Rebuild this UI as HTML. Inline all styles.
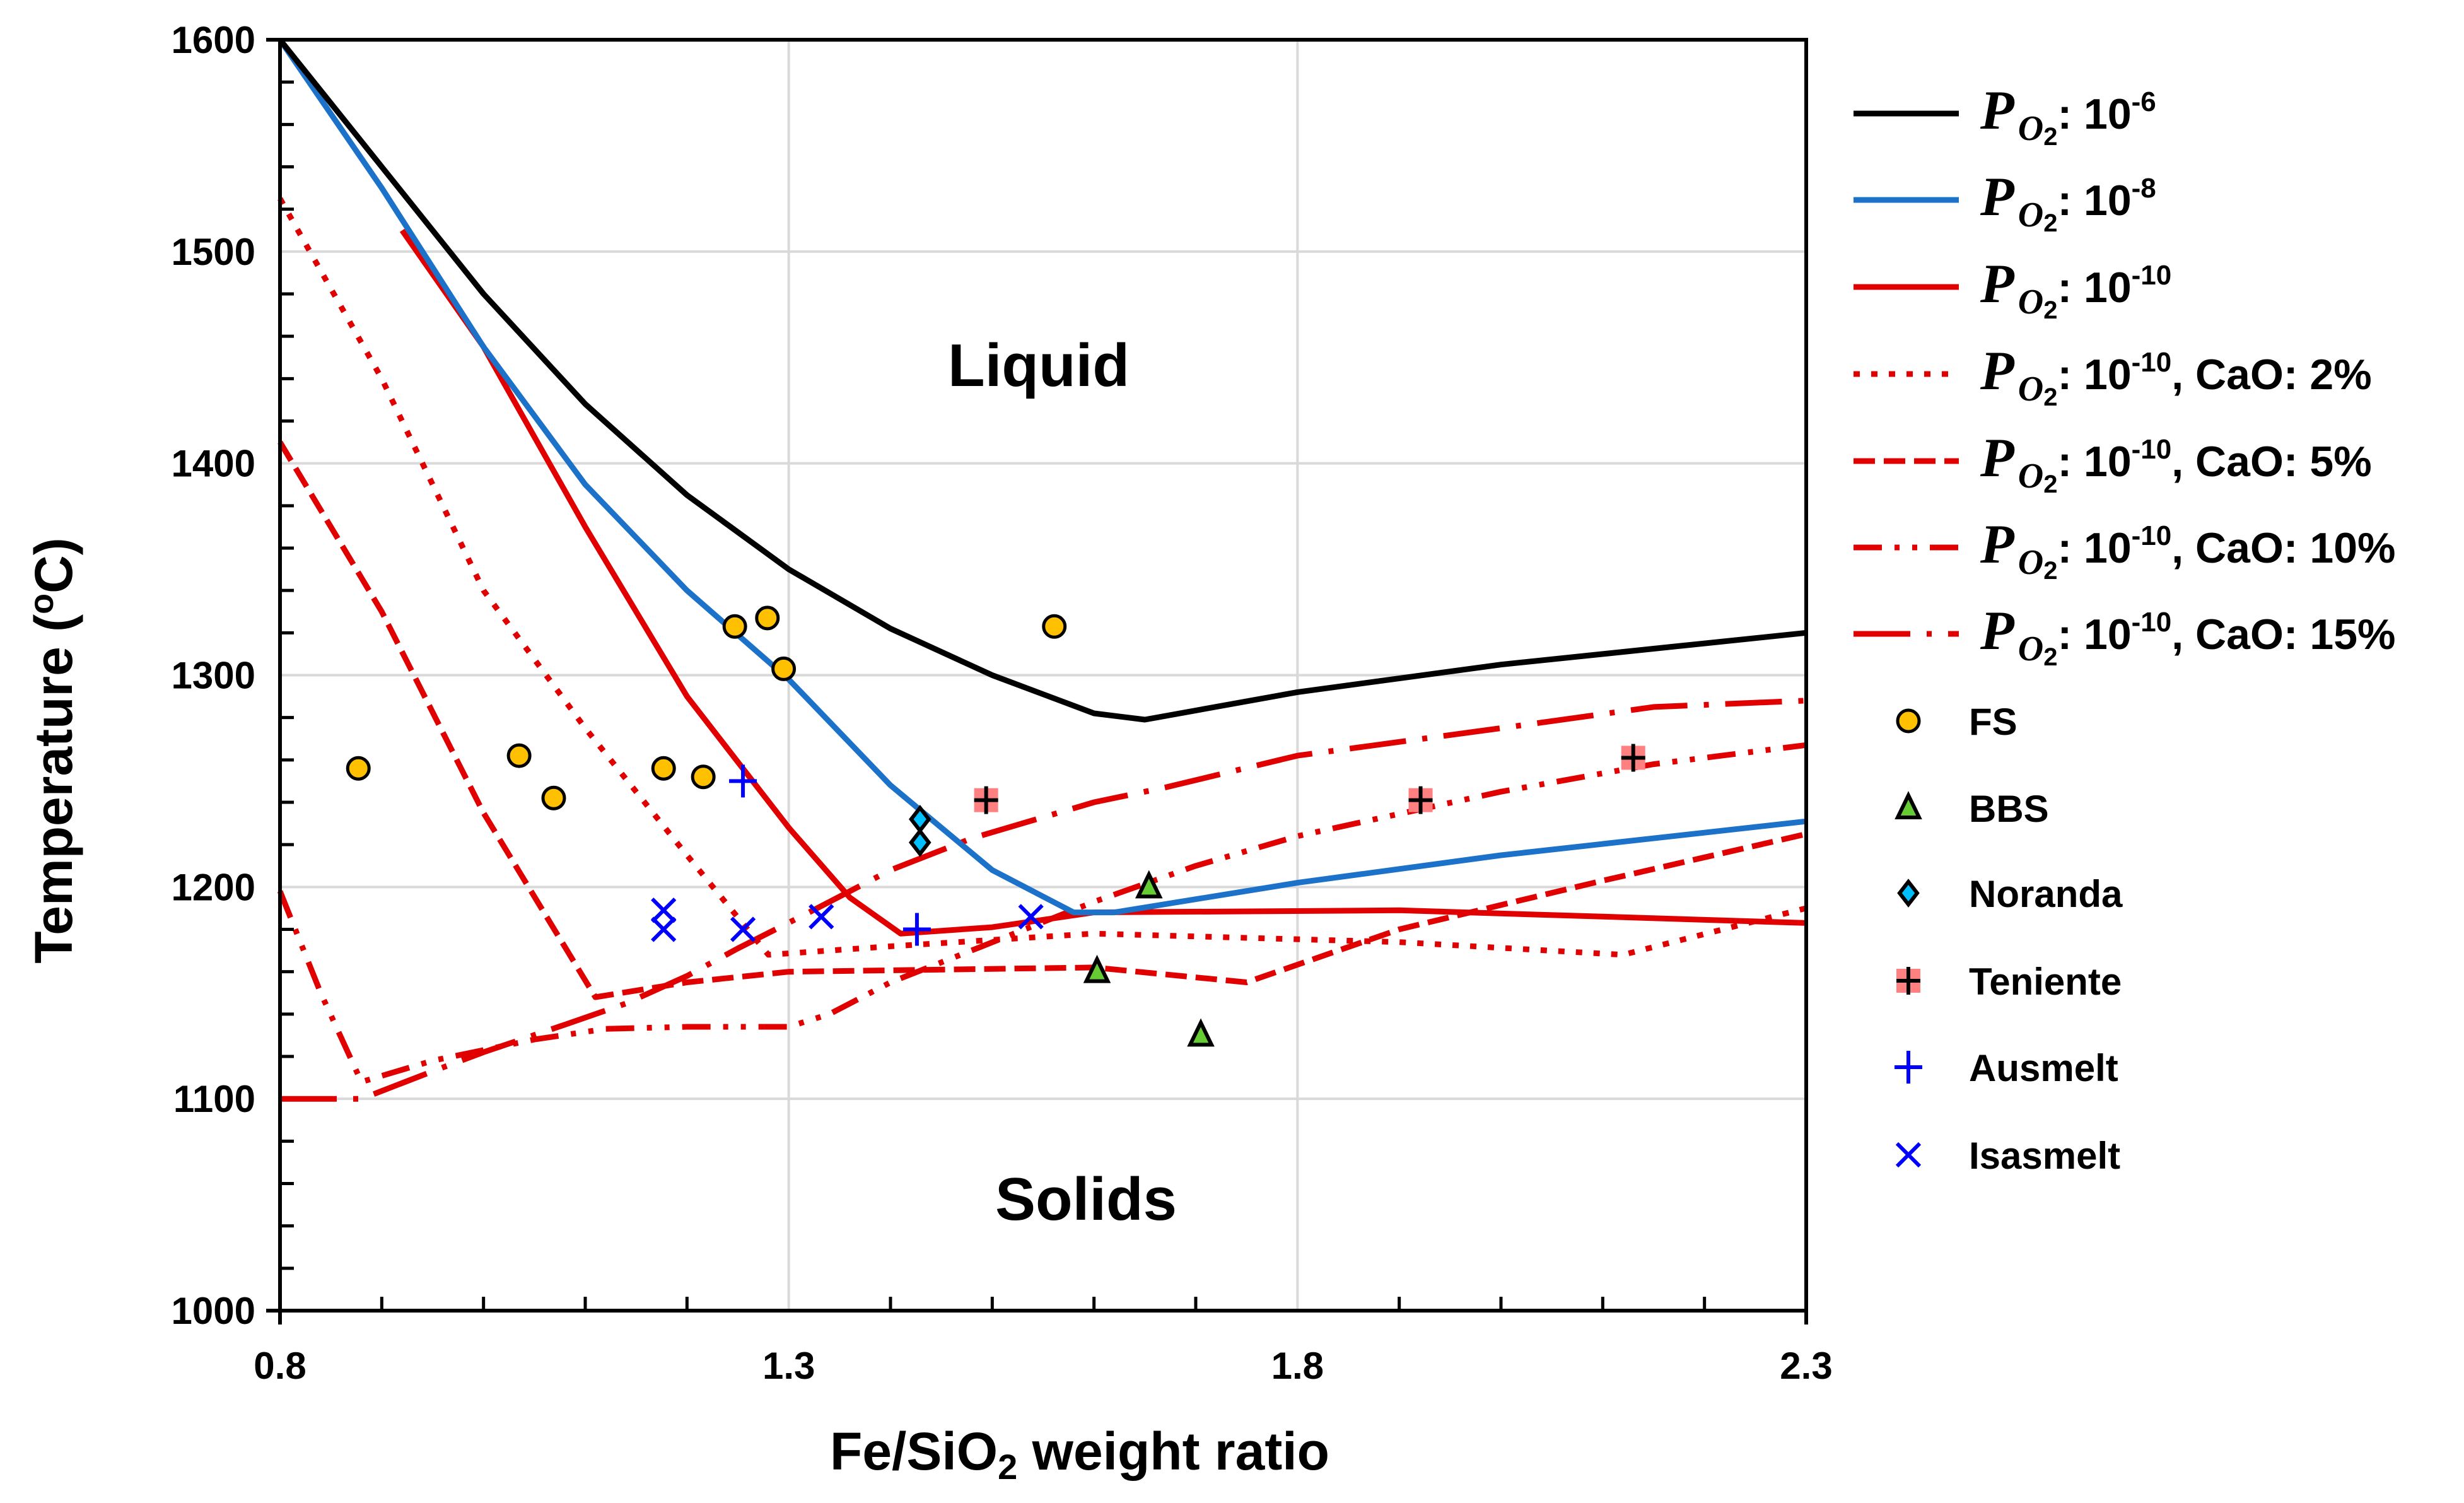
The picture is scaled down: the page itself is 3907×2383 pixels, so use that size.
<!DOCTYPE html>
<html><head><meta charset="utf-8"><style>
html,body{margin:0;padding:0;background:#fff;}
svg{display:block;}
text{font-family:"Liberation Sans",Arial,sans-serif;font-weight:bold;fill:#000;}
</style></head><body>
<svg id="chart" width="3907" height="2383" viewBox="0 0 3907 2383" xmlns="http://www.w3.org/2000/svg">
<rect x="0" y="0" width="3907" height="2383" fill="#fff"/>
<g id="grid"></g>
<g id="series"></g>
<g id="points"></g>
<g id="axes"></g>
<text x="1647" y="612" font-size="96" text-anchor="middle">Liquid</text>
<text x="1722" y="1934" font-size="96" text-anchor="middle">Solids</text>
<text transform="translate(114,1190) rotate(-90)" font-size="84" text-anchor="middle">Temperature (<tspan font-size="54" dy="-30">o</tspan><tspan dy="30">C)</tspan></text>
<text x="1712" y="2330" font-size="84" text-anchor="middle">Fe/SiO<tspan font-size="56" dy="15">2</tspan><tspan dy="-15"> weight ratio</tspan></text>
<g id="legend"></g>
</svg>
<script>
// ---- data ----
const xTicks = [0.8, 1.3, 1.8, 2.3];
const xTickLabels = ["0.8", "1.3", "1.8", "2.3"];
const yTicks = [1000, 1100, 1200, 1300, 1400, 1500, 1600];
const yTickLabels = ["1000", "1100", "1200", "1300", "1400", "1500", "1600"];

const po6X = [0.8, 0.9, 1.0, 1.1, 1.2, 1.3, 1.4, 1.5, 1.6, 1.65, 1.8, 2.0, 2.3];
const po6T = [1600, 1540, 1480, 1428, 1385, 1350, 1322, 1300, 1282, 1279, 1292, 1305, 1320];
const po8X = [0.8, 0.9, 1.0, 1.1, 1.2, 1.3, 1.4, 1.5, 1.58, 1.62, 1.8, 2.0, 2.3];
const po8T = [1600, 1530, 1455, 1390, 1340, 1298, 1248, 1208, 1188, 1188, 1202, 1215, 1231];
const po10X = [0.92, 1.0, 1.1, 1.2, 1.3, 1.36, 1.41, 1.5, 1.6, 1.9, 2.1, 2.3];
const po10T = [1510, 1455, 1370, 1290, 1228, 1195, 1178, 1181, 1188, 1189, 1186, 1183];
const cao2X = [0.8, 0.9, 1.0, 1.1, 1.2, 1.28, 1.4, 1.6, 1.9, 2.12, 2.3];
const cao2T = [1525, 1440, 1340, 1275, 1215, 1168, 1172, 1178, 1174, 1168, 1190];
const cao5X = [0.8, 0.9, 1.0, 1.11, 1.2, 1.3, 1.6, 1.75, 1.9, 2.1, 2.3];
const cao5T = [1410, 1330, 1235, 1148, 1155, 1160, 1162, 1155, 1180, 1203, 1225];
const cao10X = [0.8, 0.84, 0.88, 0.95, 1.05, 1.12, 1.2, 1.3, 1.34, 1.4, 1.49, 1.6, 1.7, 1.8, 2.0, 2.15, 2.3];
const cao10T = [1198, 1150, 1108, 1118, 1128, 1133, 1134, 1134, 1140, 1155, 1172, 1193, 1210, 1224, 1245, 1258, 1267];
const cao15X = [0.8, 0.88, 0.95, 1.0, 1.08, 1.14, 1.2, 1.25, 1.32, 1.4, 1.48, 1.6, 1.67, 1.8, 2.0, 2.15, 2.3];
const cao15T = [1100, 1100, 1113, 1122, 1135, 1145, 1158, 1171, 1188, 1208, 1223, 1240, 1247, 1262, 1275, 1285, 1288];

const fsX = [0.877, 1.035, 1.069, 1.177, 1.216, 1.247, 1.279, 1.295, 1.561];
const fsT = [1256, 1262, 1242, 1256, 1252, 1323, 1327, 1303, 1323];
const bbsX = [1.603, 1.654, 1.705];
const bbsT = [1160, 1200, 1130];
const norandaX = [1.429, 1.429];
const norandaT = [1232, 1221];
const tenienteX = [1.494, 1.921, 2.13];
const tenienteT = [1241, 1241, 1261];
const ausmeltX = [1.255, 1.426];
const ausmeltT = [1250, 1180];
const isasmeltX = [1.177, 1.177, 1.255, 1.332, 1.538];
const isasmeltT = [1189, 1180, 1180, 1186, 1186];

// ---- axis functions ----
const X0 = 444, X1 = 2864, Y0 = 2078, Y1 = 63;
const xMin = 0.8, xMax = 2.3, yMin = 1000, yMax = 1600;
function sx(v) { return X0 + (v - xMin) / (xMax - xMin) * (X1 - X0); }
function sy(t) { return Y0 - (t - yMin) / (yMax - yMin) * (Y0 - Y1); }
const NS = "http://www.w3.org/2000/svg";
function mk(tag, attrs, parent) {
  const e = document.createElementNS(NS, tag);
  for (const k in attrs) e.setAttribute(k, attrs[k]);
  parent.appendChild(e);
  return e;
}
const grid = document.getElementById('grid');
const axes = document.getElementById('axes');
const series = document.getElementById('series');
const points = document.getElementById('points');
const legend = document.getElementById('legend');

yTicks.forEach((t) => {
  if (t === yMin || t === yMax) return;
  const l = mk('line', {x1: X0, x2: X1, y1: sy(t), y2: sy(t), stroke: '#d9d9d9', 'stroke-width': 4}, grid);
  
  
});
xTicks.forEach((v) => {
  if (v === xMin || v === xMax) return;
  const l = mk('line', {x1: sx(v), x2: sx(v), y1: Y1, y2: Y0, stroke: '#d9d9d9', 'stroke-width': 4}, grid);
  
  
});

const seriesDefs = [
  {xs: cao2X, ts: cao2T, color: '#e00000', dash: '10 18', name: 'line-cao-2'},
  {xs: cao5X, ts: cao5T, color: '#e00000', dash: '34 14', name: 'line-cao-5'},
  {xs: cao10X, ts: cao10T, color: '#e00000', dash: '45 20 8 20 8 20', name: 'line-cao-10'},
  {xs: cao15X, ts: cao15T, color: '#e00000', dash: '90 26 8 26', name: 'line-cao-15'},
  {xs: po10X, ts: po10T, color: '#e00000', dash: '', name: 'line-po2-1e-10'},
  {xs: po8X, ts: po8T, color: '#1b72c8', dash: '', name: 'line-po2-1e-8'},
  {xs: po6X, ts: po6T, color: '#000000', dash: '', name: 'line-po2-1e-6'}
];
seriesDefs.forEach(s => {
  const d = s.xs.map((v, i) => (i ? 'L' : 'M') + sx(v).toFixed(1) + ',' + sy(s.ts[i]).toFixed(1)).join(' ');
  const p = mk('path', {d: d, fill: 'none', stroke: s.color, 'stroke-width': 9, 'stroke-linejoin': 'round'}, series);
  if (s.dash) p.setAttribute('stroke-dasharray', s.dash);
  
  
});

function marker(type, cx, cy, parent) {
  let e;
  if (type === 'fs') {
    e = mk('circle', {cx: cx, cy: cy, r: 17, fill: '#ffc000', stroke: '#000', 'stroke-width': 5}, parent);
  } else if (type === 'bbs') {
    e = mk('polygon', {points: `${cx},${cy-20} ${cx+17},${cy+15} ${cx-17},${cy+15}`, fill: '#66cc33', stroke: '#000', 'stroke-width': 6}, parent);
  } else if (type === 'noranda') {
    e = mk('polygon', {points: `${cx},${cy-18} ${cx+14},${cy} ${cx},${cy+18} ${cx-14},${cy}`, fill: '#00c0ff', stroke: '#000', 'stroke-width': 6}, parent);
  } else if (type === 'teniente') {
    e = mk('g', {}, parent);
    mk('rect', {x: cx-19, y: cy-19, width: 38, height: 38, fill: '#ff8080'}, e);
    mk('path', {d: `M${cx-19},${cy} H${cx+19} M${cx},${cy-22} V${cy+22}`, stroke: '#000', 'stroke-width': 6}, e);
  } else if (type === 'ausmelt') {
    e = mk('path', {d: `M${cx-22},${cy} H${cx+22} M${cx},${cy-26} V${cy+26}`, stroke: '#0000ff', 'stroke-width': 6}, parent);
  } else {
    e = mk('path', {d: `M${cx-18},${cy-18} L${cx+18},${cy+18} M${cx+18},${cy-18} L${cx-18},${cy+18}`, stroke: '#0000ff', 'stroke-width': 6}, parent);
  }
  return e;
}
const pointDefs = [
  {xs: fsX, ts: fsT, type: 'fs', name: 'fs-point'},
  {xs: bbsX, ts: bbsT, type: 'bbs', name: 'bbs-point'},
  {xs: norandaX, ts: norandaT, type: 'noranda', name: 'noranda-point'},
  {xs: tenienteX, ts: tenienteT, type: 'teniente', name: 'teniente-point'},
  {xs: ausmeltX, ts: ausmeltT, type: 'ausmelt', name: 'ausmelt-point'},
  {xs: isasmeltX, ts: isasmeltT, type: 'isasmelt', name: 'isasmelt-point'}
];
pointDefs.forEach(pd => {
  pd.xs.forEach((v, i) => {
    const e = marker(pd.type, sx(v), sy(pd.ts[i]), points);
    
    
  });
});

const yAxis = mk('line', {x1: X0, x2: X0, y1: Y1 - 3, y2: Y0 + 22, stroke: '#000', 'stroke-width': 6}, axes);


const xAxis = mk('line', {x1: X0 - 22, x2: X1 + 3, y1: Y0, y2: Y0, stroke: '#000', 'stroke-width': 6}, axes);


const topAxis = mk('line', {x1: X0 - 22, x2: X1 + 3, y1: Y1, y2: Y1, stroke: '#000', 'stroke-width': 6}, axes);


const rightAxis = mk('line', {x1: X1, x2: X1, y1: Y1 - 3, y2: Y0 + 22, stroke: '#000', 'stroke-width': 6}, axes);



for (let t = yMin + 20; t < yMax; t += 20) {
  if (t % 100 === 0) continue;
  const tk = mk('line', {x1: X0, x2: X0 + 22, y1: sy(t), y2: sy(t), stroke: '#000', 'stroke-width': 5}, axes);
  
  
}
for (let k = 1; k < 15; k++) {
  const v = xMin + k * 0.1;
  if (k % 5 === 0) continue;
  const tk = mk('line', {x1: sx(v), x2: sx(v), y1: Y0, y2: Y0 - 22, stroke: '#000', 'stroke-width': 5}, axes);
  
  
}
yTicks.forEach((t, i) => {
  const tx = mk('text', {x: 405, y: sy(t) + 21, 'font-size': 60, 'text-anchor': 'end'}, axes);
  tx.textContent = yTickLabels[i];
  
  
});
xTicks.forEach((v, i) => {
  const tx = mk('text', {x: sx(v), y: 2186, 'font-size': 60, 'text-anchor': 'middle'}, axes);
  tx.textContent = xTickLabels[i];
  
  
});

const legLines = [
  {y: 180, color: '#000', dash: '', sup: '-6', rest: '', name: 'legend-po2-1e-6'},
  {y: 317, color: '#1b72c8', dash: '', sup: '-8', rest: '', name: 'legend-po2-1e-8'},
  {y: 455, color: '#e00000', dash: '', sup: '-10', rest: '', name: 'legend-po2-1e-10'},
  {y: 593, color: '#e00000', dash: '10 18', sup: '-10', rest: ', CaO: 2%', name: 'legend-cao-2'},
  {y: 731, color: '#e00000', dash: '34 14', sup: '-10', rest: ', CaO: 5%', name: 'legend-cao-5'},
  {y: 868, color: '#e00000', dash: '45 20 8 20 8 20', sup: '-10', rest: ', CaO: 10%', name: 'legend-cao-10'},
  {y: 1005, color: '#e00000', dash: '90 26 8 26', sup: '-10', rest: ', CaO: 15%', name: 'legend-cao-15'}
];
legLines.forEach(L => {
  const g = mk('g', {}, legend);
  
  
  const ln = mk('line', {x1: 2939, x2: 3106, y1: L.y, y2: L.y, stroke: L.color, 'stroke-width': 9}, g);
  if (L.dash) ln.setAttribute('stroke-dasharray', L.dash);
  const t = mk('text', {x: 3140, y: L.y + 24, 'font-size': 68}, g);
  const p = mk('tspan', {'font-family': '"Liberation Serif", serif', 'font-style': 'italic', 'font-size': 88}, t);
  p.textContent = 'P';
  const o = mk('tspan', {'font-family': '"Liberation Serif", serif', 'font-style': 'italic', 'font-size': 56, dy: 18, dx: 6}, t);
  o.textContent = 'O';
  const two = mk('tspan', {'font-size': 40, dy: 8}, t);
  two.textContent = '2';
  const c = mk('tspan', {dy: -26}, t);
  c.textContent = ': 10';
  const s = mk('tspan', {'font-size': 44, dy: -28}, t);
  s.textContent = L.sup;
  if (L.rest) {
    const r = mk('tspan', {dy: 28}, t);
    r.textContent = L.rest;
  }
});
const legMarks = [
  {y: 1143, type: 'fs', label: 'FS', name: 'legend-fs'},
  {y: 1281, type: 'bbs', label: 'BBS', name: 'legend-bbs'},
  {y: 1416, type: 'noranda', label: 'Noranda', name: 'legend-noranda'},
  {y: 1555, type: 'teniente', label: 'Teniente', name: 'legend-teniente'},
  {y: 1692, type: 'ausmelt', label: 'Ausmelt', name: 'legend-ausmelt'},
  {y: 1831, type: 'isasmelt', label: 'Isasmelt', name: 'legend-isasmelt'}
];
legMarks.forEach(M => {
  const g = mk('g', {}, legend);
  
  
  marker(M.type, 3026, M.y, g);
  const t = mk('text', {x: 3122, y: M.y + 22, 'font-size': 60}, g);
  t.textContent = M.label;
});
</script>
</body></html>
